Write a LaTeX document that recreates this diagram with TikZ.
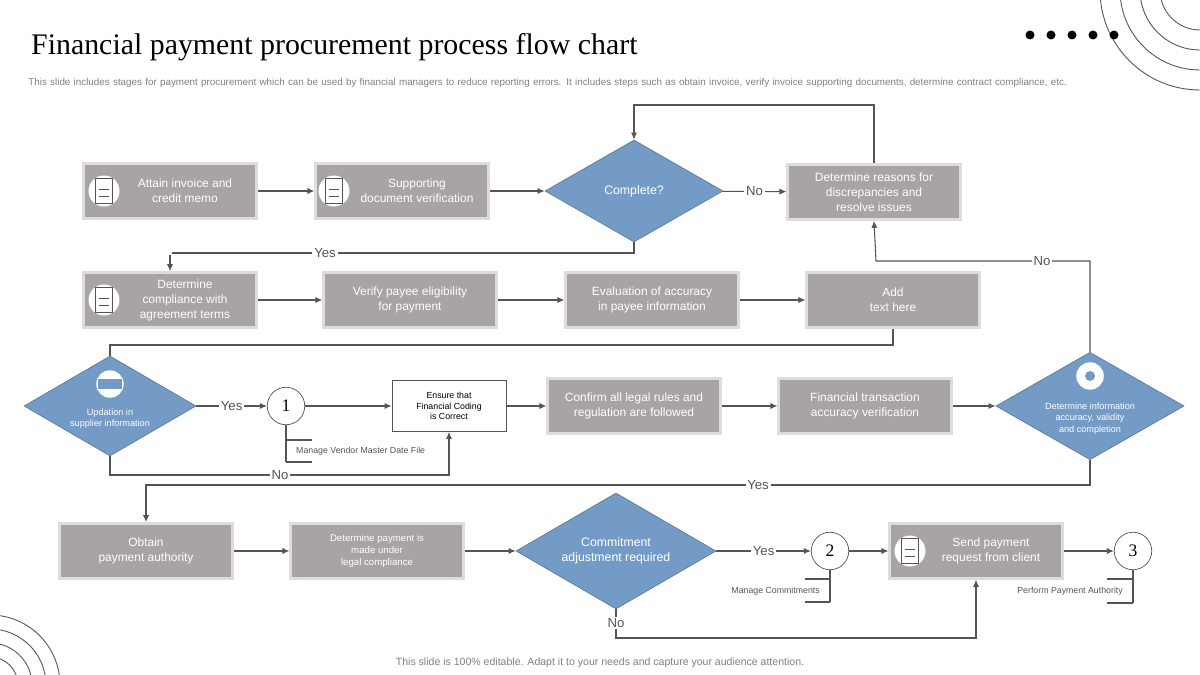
\documentclass[tikz,border=0pt]{standalone}
\usepackage{fontspec}
\setmainfont{Liberation Sans}
\newfontfamily\titlefont{Liberation Serif}
\usetikzlibrary{shapes.geometric,arrows.meta}
\definecolor{boxgray}{RGB}{168,163,165}
\definecolor{boxedge}{RGB}{222,220,221}
\definecolor{dblue}{RGB}{116,155,198}
\definecolor{lgray}{RGB}{85,85,85}
\begin{document}
\begin{tikzpicture}
      [x=0.02cm,y=-0.02cm
      ,box/.style={draw=boxedge,line width=1.5pt,fill=boxgray,text=white,minimum width=172\pgflinewidth,minimum width=3.45cm,minimum height=1.1cm,align=center,font=\fontsize{6.8}{8.5}\selectfont}
      ,dia/.style={diamond,draw=dblue!80!black,fill=dblue,text=white,aspect=1.75,inner sep=0pt,align=center}
      ,num/.style={circle,draw=lgray,fill=white,minimum size=0.75cm,inner sep=0pt,font=\fontsize{10}{10}\selectfont\titlefont}
      ,ico/.style={circle,fill=white,minimum size=0.62cm,inner sep=0pt}
      ,lin/.style={draw=lgray,line width=0.6pt}
      ,arr/.style={lin,-{Latex[length=4pt,width=3.5pt]}}
      ,lab/.style={fill=white,inner sep=1pt,text=lgray,font=\fontsize{7.5}{8}\selectfont}
      ,small/.style={text=lgray,font=\fontsize{5}{6}\selectfont}
      ]
        \useasboundingbox (0,0) rectangle (1200,675);
        % decoration
        \begin{scope}
          \clip (0,0) rectangle (1200,675);
          \foreach \r in {40,60,80,100}{
            \draw[lgray,line width=0.5pt] (1200,-10) circle (\r);
            \draw[lgray,line width=0.5pt] (-10,685) circle (\r*0.7);
          }
        \end{scope}
        \foreach \i in {0,1,...,4}{
          \fill (1030+\i*21,35) circle (4.5);
        }
        \node[anchor=west,font=\fontsize{17}{20}\selectfont\titlefont] (title) at (25,47) {Financial payment procurement process flow chart};
        \node[anchor=north west,text width=21.8cm,align=left,text=gray,font=\fontsize{5.6}{7}\selectfont,inner sep=0pt] (sub) at (28,78)
          {This slide includes stages for payment procurement which can be used by financial managers to reduce reporting errors. It includes steps such as obtain invoice, verify invoice supporting documents, determine contract compliance, etc.};
        \node[text=gray,font=\fontsize{6}{7}\selectfont] (foot) at (600,663) {This slide is 100\% editable. Adapt it to your needs and capture your audience attention.};

        % row 1
        \node[box] (invoice) at (170,191) {\hspace{6mm}Attain invoice and\\\hspace{6mm}credit memo};
        \node[box] (support) at (402,191) {\hspace{6mm}Supporting\\\hspace{6mm}document verification};
        \node[dia,minimum width=3.56cm,minimum height=2.04cm,font=\fontsize{7}{8.5}\selectfont] (complete) at (634,191) {Complete?};
        \node[box] (reasons) at (874,192) {Determine reasons for\\discrepancies and\\resolve issues};
        % row 2
        \node[box] (comply) at (170,300) {\hspace{6mm}Determine\\\hspace{6mm}compliance with\\\hspace{6mm}agreement terms};
        \node[box] (payee) at (410,300) {Verify payee eligibility\\for payment};
        \node[box] (accuracy) at (652,300) {Evaluation of accuracy\\in payee information};
        \node[box] (addtext) at (893,300) {Add\\text here};
        % row 3
        \node[dia,minimum width=3.44cm,minimum height=2cm,font=\fontsize{5.2}{6.5}\selectfont] (supplier) at (110,406) {\\[4mm]Updation in\\supplier information};
        \node[num] (one) at (286,406) {1};
        \node[draw=lgray,fill=white,minimum width=2.28cm,minimum height=1.02cm,align=center,font=\fontsize{5}{6}\selectfont] (coding) at (449,406) {Ensure that\\Financial Coding\\is Correct};
        \node[box] (legal) at (634,406) {Confirm all legal rules and\\regulation are followed};
        \node[box] (transact) at (865,406) {Financial transaction\\accuracy verification};
        \node[dia,minimum width=3.36cm,minimum height=2cm,font=\fontsize{5.2}{6.5}\selectfont] (validity) at (1090,406) {\\[4mm]Determine information\\accuracy, validity\\and completion};
        % row 4
        \node[box] (authority) at (146,551) {Obtain\\payment authority};
        \node[box,font=\fontsize{5.5}{7}\selectfont] (legalpay) at (377,551) {Determine payment is\\made under\\legal compliance};
        \node[dia,minimum width=4cm,minimum height=2.32cm,font=\fontsize{7}{8.5}\selectfont] (commit) at (616,551) {Commitment\\adjustment required};
        \node[num] (two) at (830,551) {2};
        \node[box] (request) at (976,551) {\hspace{6mm}Send payment\\\hspace{6mm}request from client};
        \node[num] (three) at (1133,551) {3};

        % icons
        \node[ico] (icA) at (104,191) {};
        \node[ico] (icB) at (334,191) {};
        \node[ico] (icC) at (104,300) {};
        \node[ico,minimum size=0.55cm] (icD) at (110,384) {};
        \node[ico,minimum size=0.55cm] (icE) at (1090,376) {};
        \node[ico] (icF) at (910,551) {};
        \foreach \n in {icA,icB,icC,icF}{
          \draw[lgray,line width=0.5pt] ([xshift=-5,yshift=7]\n.center) rectangle ([xshift=5,yshift=-7]\n.center);
          \draw[lgray,line width=0.5pt] ([xshift=-3,yshift=-3]\n.center) -- ([xshift=3,yshift=-3]\n.center);
          \draw[lgray,line width=0.5pt] ([xshift=-3,yshift=1]\n.center) -- ([xshift=3,yshift=1]\n.center);
        }
        \fill[dblue] ([xshift=-7,yshift=-3]icD.center) rectangle ([xshift=7,yshift=3]icD.center);
        \fill[dblue] (icE.center) circle (5);

        % connectors
        \coordinate (topbend) at (634,105);
        \draw[arr] (invoice) -- (support);
        \draw[arr] (support) -- (complete);
        \draw[arr] (complete) -- node[lab]{No} (reasons);
        \draw[arr] (reasons.north) |- (topbend) -- (complete.north);
        \draw[arr] (complete.south) |- (170,253) -- node[lab,pos=0.3,at start]{} (comply.north);
        \node[lab] (yes1) at (325,253) {Yes};
        \draw[arr] (comply) -- (payee);
        \draw[arr] (payee) -- (accuracy);
        \draw[arr] (accuracy) -- (addtext);
        \draw[lin] (addtext.south) |- (110,345) -- (supplier.north);
        \draw[arr] (supplier) -- node[lab]{Yes} (one);
        \draw[arr] (one) -- (coding);
        \draw[arr] (supplier.south) |- (449,475) -- (coding.south);
        \node[lab] (no1) at (280,475) {No};
        \draw[arr] (coding) -- (legal);
        \draw[arr] (legal) -- (transact);
        \draw[arr] (transact) -- (validity);
        \draw[arr] (validity.north) |- (876,261) -- (reasons.south);
        \node[lab] (no2) at (1042,261) {No};
        \draw[arr] (validity.south) |- (146,485) -- (authority.north);
        \node[lab] (yes2) at (758,485) {Yes};
        \draw[arr] (authority) -- (legalpay);
        \draw[arr] (legalpay) -- (commit);
        \draw[arr] (commit) -- node[lab]{Yes} (two);
        \draw[arr] (two) -- (request);
        \draw[arr] (request) -- (three);
        \draw[arr] (commit.south) |- (976,638) -- (request.south);
        \node[lab] (no3) at (616,623) {No};

        % brackets
        \draw[lin] (one.south) -- (286,462);
        \draw[lin] (286,440) -- (312,440);
        \draw[lin] (286,462) -- (312,462);
        \node[small,anchor=west] (vendor) at (290,451) {Manage Vendor Master Date File};
        \draw[lin] (two.south) -- (830,602);
        \draw[lin] (830,579) -- (805,579);
        \draw[lin] (830,602) -- (805,602);
        \node[small,anchor=east] (mcommit) at (826,591) {Manage Commitments};
        \draw[lin] (three.south) -- (1133,603);
        \draw[lin] (1133,579) -- (1107,579);
        \draw[lin] (1133,603) -- (1107,603);
        \node[small,anchor=east] (perform) at (1129,591) {Perform Payment Authority};
      \end{tikzpicture}
\end{document}
